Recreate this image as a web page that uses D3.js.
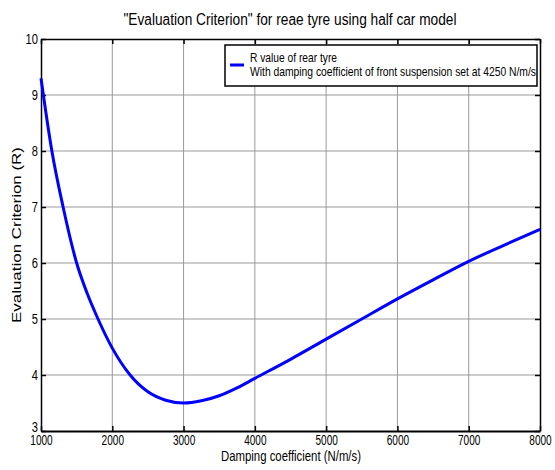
<!DOCTYPE html>
<html>
<head>
<meta charset="utf-8">
<script src="https://cdn.jsdelivr.net/npm/d3@7"></script>
<style>
  body { margin: 0; background: #fff; }
  text { font-family: "Liberation Sans", Arial, sans-serif; fill: #000; }
</style>
</head>
<body>
<div id="chart"></div>
<script>
// damping coefficient of rear suspension (N/m/s)
var damping = [1000, 1150, 1310, 1500, 1650, 1800, 2000, 2250, 2500, 2750, 3000, 3250, 3500, 3750, 4000, 4500, 5000, 5500, 6000, 6500, 7000, 7500, 8000];
// R value of rear tyre
var rValue = [9.30, 8.02, 7.00, 6.00, 5.45, 5.00, 4.48, 4.00, 3.70, 3.55, 3.50, 3.54, 3.63, 3.77, 3.94, 4.28, 4.64, 5.00, 5.36, 5.70, 6.03, 6.32, 6.60];
var xTicks = [1000, 2000, 3000, 4000, 5000, 6000, 7000, 8000];
var yTicks = [3, 4, 5, 6, 7, 8, 9, 10];

var W = 555, H = 470,
    margin = {top: 39, right: 15, bottom: 39, left: 41},
    width = W - margin.left - margin.right,
    height = H - margin.top - margin.bottom;

// squeeze text to look like the narrow font of the original
function narrow(sel, len) {
    sel.attr("textLength", len).attr("lengthAdjust", "spacingAndGlyphs");
}

var svg = d3.select("#chart").append("svg")
    .attr("width", W)
    .attr("height", H);

var g = svg.append("g")
    .attr("transform", "translate(" + margin.left + "," + margin.top + ")");

var x = d3.scaleLinear().domain([1000, 8000]).range([0, width]);
var y = d3.scaleLinear().domain([3, 10]).range([height, 0]);

// grid
g.append("g").selectAll("line")
    .data(xTicks.slice(1, -1))
    .enter().append("line")
    .attr("x1", function (d) { return x(d); })
    .attr("x2", function (d) { return x(d); })
    .attr("y1", 0).attr("y2", height)
    .attr("stroke", "#9a9a9a").attr("stroke-width", 1);
g.append("g").selectAll("line")
    .data(yTicks.slice(1, -1))
    .enter().append("line")
    .attr("y1", function (d) { return y(d); })
    .attr("y2", function (d) { return y(d); })
    .attr("x1", 0).attr("x2", width)
    .attr("stroke", "#9a9a9a").attr("stroke-width", 1);

// axes, ticks inward like matlab
g.append("g")
    .attr("transform", "translate(0," + height + ")")
    .call(d3.axisBottom(x).tickValues(xTicks).tickSizeInner(-5).tickSizeOuter(0).tickPadding(6).tickFormat(d3.format("d")))
    .call(function (a) {
        a.select(".domain").attr("stroke-width", 2);
        a.selectAll(".tick line").attr("stroke-width", 1.5);
        a.selectAll("text").style("font-size", "14px").attr("dy", "0.55em")
            .each(function (d) { narrow(d3.select(this), String(d).length * 5.6); });
    });
g.append("g")
    .call(d3.axisLeft(y).tickValues(yTicks).tickSizeInner(-5).tickSizeOuter(0).tickFormat(d3.format("d")))
    .call(function (a) {
        a.select(".domain").attr("stroke-width", 1.5);
        a.selectAll(".tick line").attr("stroke-width", 1.5);
        a.selectAll("text").style("font-size", "14px")
            .attr("dy", function (d) { return d === 3 ? "0.05em" : "0.32em"; })
            .attr("x", -3)
            .each(function (d) { narrow(d3.select(this), String(d).length * 6.2); });
    });
g.append("g")
    .call(d3.axisTop(x).tickValues(xTicks).tickSizeInner(-5).tickSizeOuter(0).tickFormat(""))
    .call(function (a) {
        a.select(".domain").attr("stroke-width", 1.5);
        a.selectAll(".tick line").attr("stroke-width", 1.5);
    });
g.append("g")
    .attr("transform", "translate(" + width + ",0)")
    .call(d3.axisRight(y).tickValues(yTicks).tickSizeInner(-5).tickSizeOuter(0).tickFormat(""))
    .call(function (a) {
        a.select(".domain").attr("stroke-width", 1.5);
        a.selectAll(".tick line").attr("stroke-width", 1.5);
    });

// curve
var line = d3.line()
    .x(function (d, i) { return x(damping[i]); })
    .y(function (d) { return y(d); })
    .curve(d3.curveMonotoneX);

g.append("path")
    .datum(rValue)
    .attr("d", line)
    .attr("fill", "none")
    .attr("stroke", "#0000ff")
    .attr("stroke-width", 3);

// legend
var legend = svg.append("g").attr("transform", "translate(225,45)");
legend.append("rect")
    .attr("width", 312).attr("height", 41)
    .attr("fill", "#fff").attr("stroke", "#000").attr("stroke-width", 1.5);
legend.append("line")
    .attr("x1", 5).attr("x2", 19).attr("y1", 20).attr("y2", 20)
    .attr("stroke", "#0000ff").attr("stroke-width", 3);
legend.append("text").attr("x", 25).attr("y", 17).style("font-size", "13px")
    .call(narrow, 87).text("R value of rear tyre");
legend.append("text").attr("x", 25).attr("y", 31).style("font-size", "13px")
    .call(narrow, 286).text("With damping coefficient of front suspension set at 4250 N/m/s");

// titles
svg.append("text")
    .attr("x", 290).attr("y", 25)
    .attr("text-anchor", "middle")
    .style("font-size", "16px")
    .call(narrow, 333)
    .text("\"Evaluation Criterion\" for reae tyre using half car model");
svg.append("text")
    .attr("x", 291).attr("y", 461)
    .attr("text-anchor", "middle")
    .style("font-size", "15px")
    .call(narrow, 140)
    .text("Damping coefficient (N/m/s)");
svg.append("text")
    .attr("transform", "translate(21,235) rotate(-90)")
    .attr("text-anchor", "middle")
    .style("font-size", "13px")
    .call(narrow, 176)
    .text("Evaluation Criterion (R)");
</script>
</body>
</html>
